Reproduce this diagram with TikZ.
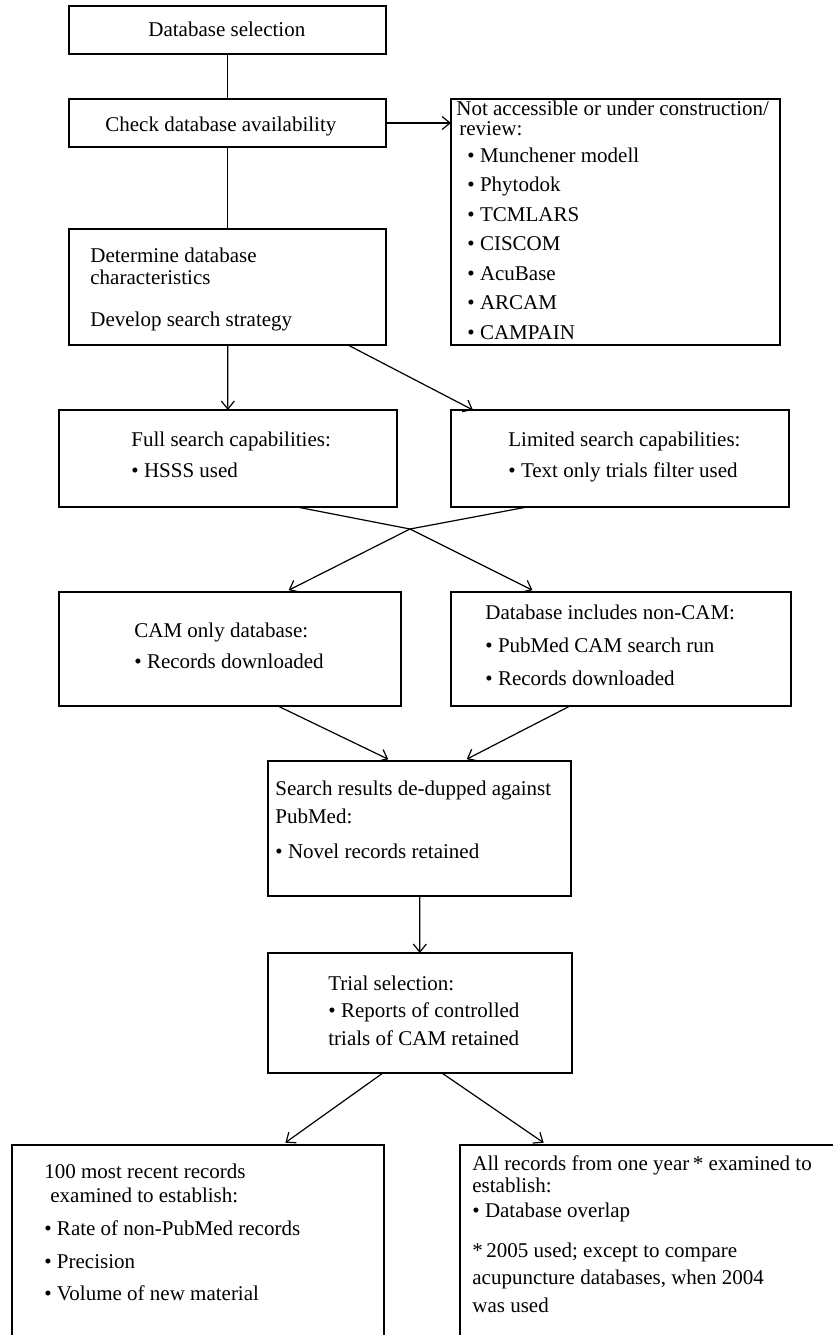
\documentclass[tikz,border=0pt]{standalone}
\usepackage{fontspec}
\setmainfont{Liberation Serif}
\usetikzlibrary{arrows.meta,calc,fit}
\newcommand{\boxfont}[1]{\fontsize{10.5}{#1}\selectfont\lineskiplimit=-20pt\relax}

\begin{document}
\begin{tikzpicture}[x=0.5pt,y=-0.5pt,
% common options for the boxes:
box/.style = {draw, line width=0.6pt, inner sep=0, outer sep=0},
% common options for the texts inside the boxes (placed at the last baseline):
txt/.style = {anchor=base west, align=left, inner sep=0, font=\boxfont{12pt}},
% common options for the connectors:
link/.style = {line width=0.6pt},
diag/.style = {shorten >=2pt},
>={Straight Barb[length=4pt,width=6.5pt]}]
\useasboundingbox (0,0) rectangle (833,1335);
\clip (0,0) rectangle (833,1335);
% boxes
\node[box, fit={(69,6) (386,54)}] (dbsel) {};
\node[box, fit={(69,99) (386,147)}] (check) {};
\node[box, fit={(69,229) (386,345)}] (charac) {};
\node[box, fit={(451,99) (780,345)}] (notacc) {};
\node[box, fit={(59,410) (397,507)}] (full) {};
\node[box, fit={(451,410) (789,507)}] (limited) {};
\node[box, fit={(59,592) (401,706)}] (camonly) {};
\node[box, fit={(451,592) (791,706)}] (noncam) {};
\node[box, fit={(268,761) (571,896)}] (dedup) {};
\node[box, fit={(268,953) (572,1073)}] (trial) {};
\node[box, fit={(12,1145) (384,1400)}] (recent) {};
\node[box, fit={(460,1145) (880,1400)}] (oneyear) {};
% texts
\node[txt] (dbselT) at (148,36) {Database selection};
\node[txt] (checkT) at (105,131) {Check database availability};
\node[txt, font=\boxfont{11pt}] (characT) at (90,326) {Determine database\\characteristics\\[10pt]Develop search strategy};
\node[txt, font=\boxfont{10pt}] (notaccT) at (456,135) {Not accessible or under construction/\\\hspace*{1.5pt}review:};
\node[txt, font=\boxfont{14.75pt}] (notaccL) at (467,339) {\textbullet\ Munchener modell\\\textbullet\ Phytodok\\\textbullet\ TCMLARS\\\textbullet\ CISCOM\\\textbullet\ AcuBase\\\textbullet\ ARCAM\\\textbullet\ CAMPAIN};
\node[txt, font=\boxfont{15.5pt}] (fullT) at (131,477) {Full search capabilities:\\\textbullet\ HSSS used};
\node[txt, font=\boxfont{15.5pt}] (limitedT) at (508,477) {Limited search capabilities:\\\textbullet\ Text only trials filter used};
\node[txt, font=\boxfont{15.5pt}] (camonlyT) at (134,668) {CAM only database:\\\textbullet\ Records downloaded};
\node[txt, font=\boxfont{16.5pt}] (noncamT) at (485,685) {Database includes non-CAM:\\\textbullet\ PubMed CAM search run\\\textbullet\ Records downloaded};
\node[txt, font=\boxfont{14pt}] (dedupT) at (275,858) {Search results de-dupped against\\PubMed:\\[3.5pt]\textbullet\ Novel records retained};
\node[txt, font=\boxfont{13.75pt}] (trialT) at (328,1045) {Trial selection:\\\textbullet\ Reports of controlled\\trials of CAM retained};
\node[txt, font=\boxfont{12pt}] (recentT) at (44,1300) {100 most recent records\\\hspace*{3pt}examined to establish:\\[4.5pt]\textbullet\ Rate of non-PubMed records\\[4.5pt]\textbullet\ Precision\\[4pt]\textbullet\ Volume of new material};
\node[txt, font=\boxfont{11pt}] (oneyearT) at (472,1312) {All records from one year\,* examined to\\establish:\\[1.5pt]\textbullet\ Database overlap\\[9pt]*\,2005 used; except to compare\\[2.5pt]acupuncture databases, when 2004\\[3pt]was used};
% connectors
\coordinate (cross) at (410,529);
\draw[link] (dbsel) -- (check);
\draw[link] (check) -- (charac);
\draw[link,->] (check.east) -- (check.east -| notacc.west);
\draw[link,->] (charac) -- (full);
\draw[link,->] ($(charac.south west)!0.88!(charac.south east)$) -- ($(limited.north west)!0.065!(limited.north east)$);
\draw[link,->,diag] ($(full.south west)!0.704!(full.south east)$) -- (cross) -- ($(noncam.north west)!0.25!(noncam.north east)$);
\draw[link,->,diag] ($(limited.south west)!0.225!(limited.south east)$) -- (cross) -- ($(camonly.north west)!0.661!(camonly.north east)$);
\draw[link,->,diag] ($(camonly.south west)!0.64!(camonly.south east)$) -- ($(dedup.north west)!0.409!(dedup.north east)$);
\draw[link,->,diag] ($(noncam.south west)!0.35!(noncam.south east)$) -- ($(dedup.north west)!0.644!(dedup.north east)$);
\draw[link,->] (dedup) -- (trial);
\draw[link,->,diag] ($(trial.south west)!0.378!(trial.south east)$) -- ($(recent.north west)!0.726!(recent.north east)$);
\draw[link,->,diag] ($(trial.south west)!0.572!(trial.south east)$) -- ($(oneyear.north west)!0.207!(oneyear.north east)$);
\end{tikzpicture}
\end{document}
